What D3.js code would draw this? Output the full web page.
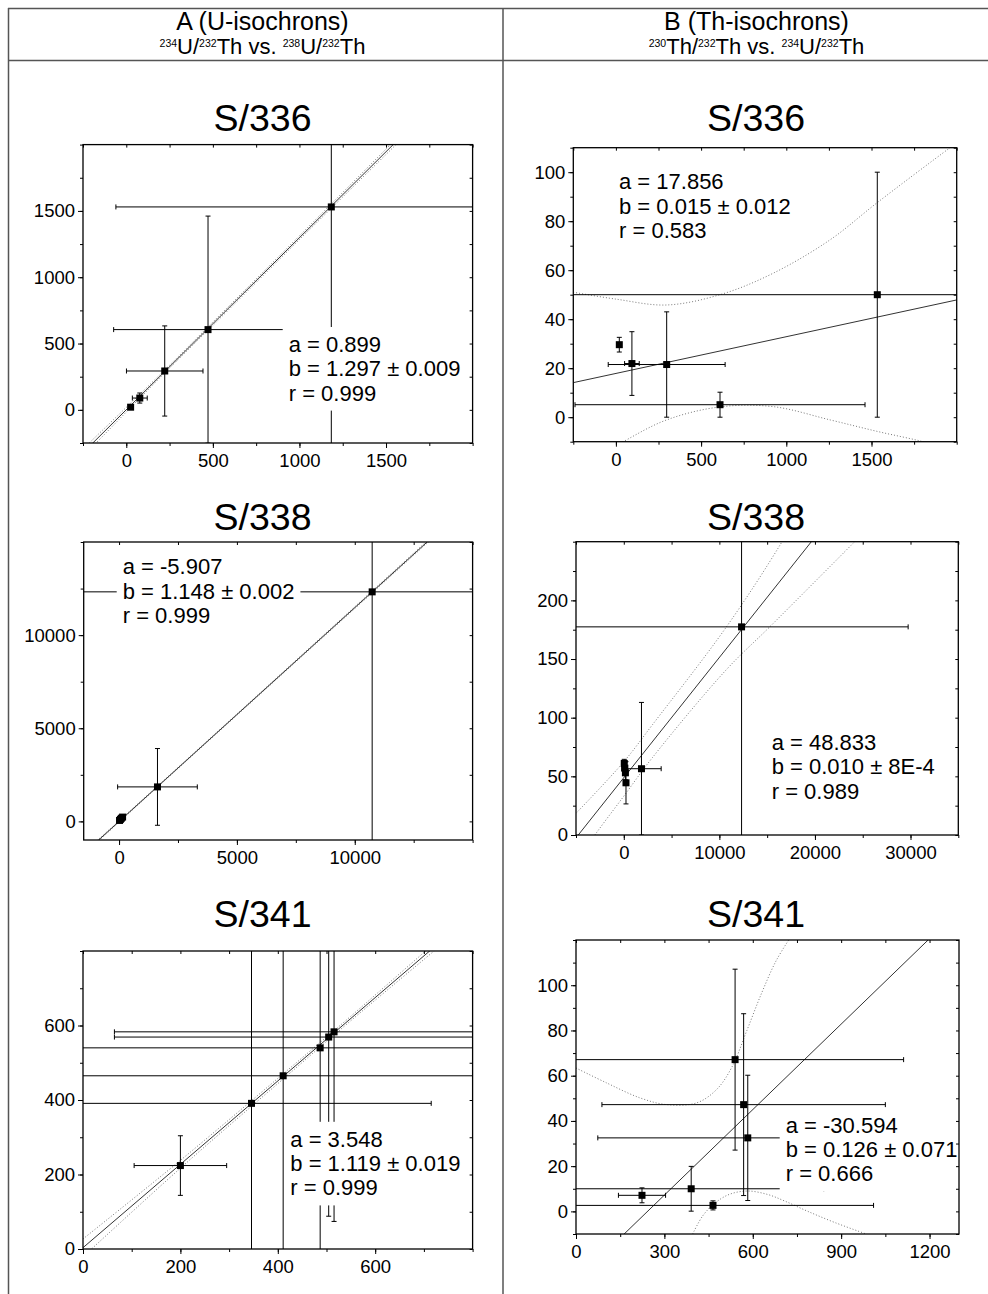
<!DOCTYPE html>
<html>
<head>
<meta charset="utf-8">
<script src="https://cdn.jsdelivr.net/npm/d3@7"></script>
<style>
  body { margin: 0; background: #fff; }
  svg { display: block; font-family: "Liberation Sans", Arial, sans-serif; }
</style>
</head>
<body>
<svg id="chart" width="988" height="1294"></svg>
<script>
// ---- data ----
// each point: [x, y, x error, y error]
// A = 234U/232Th (y) vs 238U/232Th (x), B = 230Th/232Th (y) vs 234U/232Th (x)

// S/336
const a336Points = [
  [25, 20, 0, 0],
  [78, 89, 43, 38],
  [222, 293, 221, 340],
  [472, 605, 545, 856],
  [1184, 1530, 1244, 2400]
];
const a336Fit = [0.899, 1.297];
const a336Upper = [[-250, -295], [200, 272], [500, 662], [1000, 1312], [1600, 2098]];
const a336Lower = [[-250, -352], [200, 250], [500, 637], [1000, 1284], [1600, 2054]];
const a336Text = ["a = 0.899", "b = 1.297 ± 0.009", "r = 0.999"];
const a336XTicks = [0, 500, 1000, 1500];
const a336YTicks = [0, 500, 1000, 1500];

const b336Points = [
  [20, 29.6, 0, 3],
  [94, 21.9, 43, 13],
  [298, 21.5, 343, 21.5],
  [611, 5.1, 851, 5.1],
  [1534, 50, 2500, 50]
];
const b336Fit = [17.856, 0.015];
const b336Upper = [[-250, 51], [0, 48.2], [298, 45.8], [620, 50.2], [924, 58.8], [1257, 72.4], [1534, 87.6], [1961, 110], [2100, 117]];
const b336Lower = [[-250, -22], [43, -10], [298, -1.1], [611, 4.2], [924, 4.3], [1257, -1.1], [1534, -5.8], [1803, -10], [2000, -14]];
const b336Text = ["a = 17.856", "b = 0.015 ± 0.012", "r = 0.583"];
const b336XTicks = [0, 500, 1000, 1500];
const b336YTicks = [0, 20, 40, 60, 80, 100];

// S/338
const a338Points = [
  [20, 50, 0, 0],
  [60, 110, 0, 0],
  [100, 170, 0, 0],
  [150, 230, 0, 0],
  [1630, 1851, 1690, 2060],
  [10739, 12323, 14000, 17430]
];
const a338Fit = [-5.907, 1.148];
const a338Upper = [[-1500, -1680], [2000, 2320], [14000, 16130]];
const a338Lower = [[-1500, -1776], [2000, 2260], [14000, 16002]];
const a338Text = ["a = -5.907", "b = 1.148 ± 0.002", "r = 0.999"];
const a338XTicks = [0, 5000, 10000];
const a338YTicks = [0, 5000, 10000];

const b338Points = [
  [50, 61, 0, 3.5],
  [110, 57, 0, 5],
  [170, 53, 0, 6],
  [230, 44.5, 0, 18],
  [1851, 56.5, 2060, 56.5],
  [12323, 177.4, 17430, 200]
];
const b338Fit = [48.833, 0.01025];
const b338Upper = [[-5000, 18.5], [0, 62.4], [3000, 94], [10740, 177.4], [16560, 250], [20000, 300]];
const b338Lower = [[-5000, -23], [-3030, 0], [0, 33.1], [3000, 66], [10740, 141], [15270, 177.4], [24160, 250]];
const b338Text = ["a = 48.833", "b = 0.010 ± 8E-4", "r = 0.989"];
const b338XTicks = [0, 10000, 20000, 30000];
const b338YTicks = [0, 50, 100, 150, 200];

// S/341
const a341Points = [
  [200, 224, 95, 80],
  [346, 391, 369, 450],
  [411, 465, 450, 545],
  [487, 540, 520, 572],
  [504.5, 569, 440, 481],
  [515.5, 583, 451, 509]
];
const a341Fit = [3.548, 1.119];
const a341Upper = [[0, 27], [200, 238], [400, 458], [550, 625], [800, 911]];
const a341Lower = [[0, -21], [200, 217], [400, 444], [550, 613], [800, 886]];
const a341Text = ["a = 3.548", "b = 1.119 ± 0.019", "r = 0.999"];
const a341XTicks = [0, 200, 400, 600];
const a341YTicks = [0, 200, 400, 600];

const b341Points = [
  [224, 7.1, 80, 3.3],
  [391, 10.0, 450, 9.9],
  [465, 2.65, 545, 2],
  [540, 67.1, 572, 40],
  [569, 47.2, 481, 40.2],
  [583, 32.5, 509, 27.7]
];
const b341Fit = [-30.594, 0.126];
const b341Upper = [[0, 63.4], [104, 56.8], [217, 50.2], [308, 47.2], [410, 48.0], [478, 54], [530, 64], [580, 80], [630, 96.5], [680, 111], [732, 122]];
const b341Lower = [[396, -10], [430, -2], [470, 3.5], [520, 7.5], [582, 9.0], [650, 7.5], [708, 4.6], [787, 0], [880, -5], [985, -10]];
const b341Text = ["a = -30.594", "b = 0.126 ± 0.071", "r = 0.666"];
const b341XTicks = [0, 300, 600, 900, 1200];
const b341YTicks = [0, 20, 40, 60, 80, 100];

// ---- layout ----
const panels = [
  { id: "a336", title: "S/336", cx: 262.5, ty: 131, frame: [83, 472.6, 144.6, 443],
    xDomain: [-250, 2000], yDomain: [-250, 2000], xTicks: a336XTicks, yTicks: a336YTicks, xStep: 250, yStep: 250,
    points: a336Points, fit: a336Fit, upper: a336Upper, lower: a336Lower, text: a336Text, textPos: [288.7, 352] },
  { id: "b336", title: "S/336", cx: 756, ty: 131, frame: [573.3, 956.7, 147.7, 441.7],
    xDomain: [-250, 2000], yDomain: [-10, 110], xTicks: b336XTicks, yTicks: b336YTicks, xStep: 250, yStep: 10,
    points: b336Points, fit: b336Fit, upper: b336Upper, lower: b336Lower, text: b336Text, textPos: [619, 189.3] },
  { id: "a338", title: "S/338", cx: 262.5, ty: 530, frame: [83.7, 472.6, 542, 840],
    xDomain: [-1500, 15000], yDomain: [-1000, 15000], xTicks: a338XTicks, yTicks: a338YTicks, xStep: 2500, yStep: 2500,
    points: a338Points, fit: a338Fit, upper: a338Upper, lower: a338Lower, text: a338Text, textPos: [122.7, 574.2] },
  { id: "b338", title: "S/338", cx: 756, ty: 530, frame: [576, 958.3, 541.7, 835],
    xDomain: [-5000, 35000], yDomain: [0, 250], xTicks: b338XTicks, yTicks: b338YTicks, xStep: 5000, yStep: 25,
    points: b338Points, fit: b338Fit, upper: b338Upper, lower: b338Lower, text: b338Text, textPos: [771.7, 750] },
  { id: "a341", title: "S/341", cx: 262.5, ty: 927, frame: [83, 472.6, 951, 1249],
    xDomain: [0, 800], yDomain: [0, 800], xTicks: a341XTicks, yTicks: a341YTicks, xStep: 100, yStep: 100,
    points: a341Points, fit: a341Fit, upper: a341Upper, lower: a341Lower, text: a341Text, textPos: [290.3, 1146.8] },
  { id: "b341", title: "S/341", cx: 756, ty: 927, frame: [576, 959, 940, 1234],
    xDomain: [0, 1300], yDomain: [-10, 120], xTicks: b341XTicks, yTicks: b341YTicks, xStep: 150, yStep: 10,
    points: b341Points, fit: b341Fit, upper: b341Upper, lower: b341Lower, text: b341Text, textPos: [785.7, 1132.7] }
];

const svg = d3.select("#chart");
const defs = svg.append("defs");

drawTable();
panels.forEach(drawPanel);

function drawTable() {
  const g = svg.append("g")
    .attr("stroke", "#555")
    .attr("stroke-width", 1.5);
  g.append("line").attr("x1", 8).attr("x2", 988).attr("y1", 8.5).attr("y2", 8.5);
  g.append("line").attr("x1", 8).attr("x2", 988).attr("y1", 60.5).attr("y2", 60.5);
  g.append("line").attr("x1", 8.5).attr("x2", 8.5).attr("y1", 8).attr("y2", 1294);
  g.append("line").attr("x1", 503).attr("x2", 503).attr("y1", 8).attr("y2", 1294);

  header(262.5, "A (U-isochrons)", [["234", "U/"], ["232", "Th vs. "], ["238", "U/"], ["232", "Th"]]);
  header(756.5, "B (Th-isochrons)", [["230", "Th/"], ["232", "Th vs. "], ["234", "U/"], ["232", "Th"]]);
}

function header(cx, name, parts) {
  svg.append("text")
    .attr("x", cx).attr("y", 30)
    .attr("text-anchor", "middle")
    .attr("font-size", 25)
    .text(name);
  const t = svg.append("text")
    .attr("x", cx).attr("y", 54)
    .attr("text-anchor", "middle")
    .attr("font-size", 22)
    .style("white-space", "pre");
  parts.forEach(([sup, main]) => {
    t.append("tspan").attr("font-size", 10.5).attr("dy", -7).text(sup);
    t.append("tspan").attr("dy", 7).text(main);
  });
}

function minorTicks(domain, step) {
  const start = Math.ceil(domain[0] / step) * step;
  return d3.range(start, domain[1] + step / 1000, step);
}

function drawPanel(p) {
  const [left, right, top, bottom] = p.frame;
  const x = d3.scaleLinear().domain(p.xDomain).range([left, right]);
  const y = d3.scaleLinear().domain(p.yDomain).range([bottom, top]);
  const g = svg.append("g").attr("class", p.id);

  // title
  g.append("text")
    .attr("x", p.cx).attr("y", p.ty)
    .attr("text-anchor", "middle")
    .attr("font-size", 37.5)
    .text(p.title);

  defs.append("clipPath").attr("id", "clip-" + p.id)
    .append("rect")
    .attr("x", left).attr("y", top)
    .attr("width", right - left).attr("height", bottom - top);
  const inner = g.append("g").attr("clip-path", "url(#clip-" + p.id + ")");

  // confidence bands
  const band = d3.line()
    .x(d => x(d[0]))
    .y(d => y(d[1]))
    .curve(d3.curveCatmullRom.alpha(0.5));
  inner.selectAll(".band")
    .data([p.upper, p.lower])
    .join("path")
    .attr("class", "band")
    .attr("d", band)
    .attr("fill", "none")
    .attr("stroke", "#777")
    .attr("stroke-width", 1)
    .attr("stroke-dasharray", "1,2");

  // regression line y = a + b x
  const [a, b] = p.fit;
  inner.append("line")
    .attr("x1", x(p.xDomain[0])).attr("y1", y(a + b * p.xDomain[0]))
    .attr("x2", x(p.xDomain[1])).attr("y2", y(a + b * p.xDomain[1]))
    .attr("stroke", "#333")
    .attr("stroke-width", 1);

  // error bars
  const cap = 2.5;
  const bars = inner.append("g")
    .attr("stroke", "#000")
    .attr("stroke-width", 1);
  p.points.forEach(([px, py, ex, ey]) => {
    if (ex > 0) {
      bars.append("line")
        .attr("x1", x(px - ex)).attr("x2", x(px + ex))
        .attr("y1", y(py)).attr("y2", y(py));
      [px - ex, px + ex].forEach(v => bars.append("line")
        .attr("x1", x(v)).attr("x2", x(v))
        .attr("y1", y(py) - cap).attr("y2", y(py) + cap));
    }
    if (ey > 0) {
      bars.append("line")
        .attr("x1", x(px)).attr("x2", x(px))
        .attr("y1", y(py - ey)).attr("y2", y(py + ey));
      [py - ey, py + ey].forEach(v => bars.append("line")
        .attr("x1", x(px) - cap).attr("x2", x(px) + cap)
        .attr("y1", y(v)).attr("y2", y(v)));
    }
  });

  // markers
  inner.selectAll(".pt")
    .data(p.points)
    .join("rect")
    .attr("class", "pt")
    .attr("x", d => x(d[0]) - 3.5)
    .attr("y", d => y(d[1]) - 3.5)
    .attr("width", 7).attr("height", 7)
    .attr("fill", "#000");

  // fit parameters, on a white box
  const box = g.append("g");
  const rect = box.append("rect").attr("fill", "#fff");
  const txt = box.append("text")
    .attr("font-size", 22)
    .style("white-space", "pre");
  p.text.forEach((s, i) => {
    txt.append("tspan")
      .attr("x", p.textPos[0])
      .attr("y", p.textPos[1] + i * 24.3)
      .text(s);
  });
  const bb = txt.node().getBBox();
  rect.attr("x", bb.x - 6).attr("y", bb.y - 5)
    .attr("width", bb.width + 12).attr("height", bb.height + 10);

  // axes
  const fmt = d3.format("d");
  const xMinor = minorTicks(p.xDomain, p.xStep);
  const yMinor = minorTicks(p.yDomain, p.yStep);

  const axes = g.append("g");
  axes.append("g")
    .attr("transform", "translate(0," + bottom + ")")
    .call(d3.axisBottom(x).tickValues(xMinor).tickSize(3).tickFormat(""));
  axes.append("g")
    .attr("transform", "translate(0," + bottom + ")")
    .call(d3.axisBottom(x).tickValues(p.xTicks).tickSize(5).tickPadding(6).tickFormat(fmt));
  axes.append("g")
    .attr("transform", "translate(" + left + ",0)")
    .call(d3.axisLeft(y).tickValues(yMinor).tickSize(3).tickFormat(""));
  axes.append("g")
    .attr("transform", "translate(" + left + ",0)")
    .call(d3.axisLeft(y).tickValues(p.yTicks).tickSize(5).tickPadding(3).tickFormat(fmt));
  axes.append("g")
    .attr("transform", "translate(0," + top + ")")
    .call(d3.axisTop(x).tickValues(xMinor).tickSize(-3).tickFormat(""));
  axes.append("g")
    .attr("transform", "translate(" + right + ",0)")
    .call(d3.axisRight(y).tickValues(yMinor).tickSize(-3).tickFormat(""));

  axes.selectAll(".domain").remove();
  axes.selectAll(".tick line").attr("stroke", "#000");
  axes.selectAll("text")
    .attr("font-family", "Liberation Sans, Arial, sans-serif")
    .attr("font-size", 18.5)
    .attr("fill", "#000");

  // frame
  g.append("rect")
    .attr("x", left).attr("y", top)
    .attr("width", right - left).attr("height", bottom - top)
    .attr("fill", "none")
    .attr("stroke", "#000")
    .attr("stroke-width", 1.3);
}
</script>
</body>
</html>
